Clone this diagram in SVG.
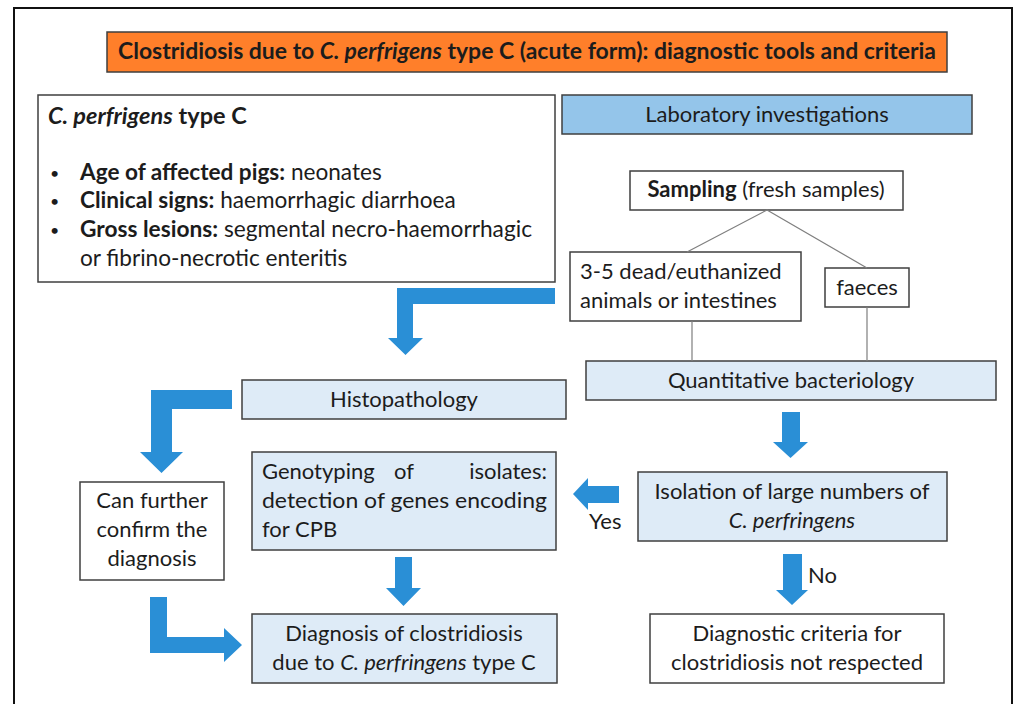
<svg xmlns="http://www.w3.org/2000/svg" width="1016" height="704" viewBox="0 0 1016 704">
  <style>
    text { font-family: Lato, "Open Sans", "Liberation Sans", sans-serif; fill: #1c1c1c; font-size: 22px; }
    .box { stroke: #3f3f3f; stroke-width: 1.5; }
    .white { fill: #ffffff; }
    .pale { fill: #deebf7; }
    .mid { fill: #94c5ea; }
    .title { fill: #ff7f2a; }
    .arrow { fill: #2a8fd6; }
    .link { stroke: #7f7f7f; stroke-width: 1.2; fill: none; }
    .c { text-anchor: middle; }
    .b { font-weight: bold; }
    .i { font-style: italic; }
    .dot { font-size: 16px; }
    #summary text { font-size: 22.6px; }
    #summary text.head { font-size: 23.5px; }
    #summary text.dot { font-size: 16px; }
  </style>

  <rect x="0" y="0" width="1016" height="704" fill="#ffffff"/>
  <!-- outer frame -->
  <rect x="14" y="8" width="998" height="720" fill="none" stroke="#111" stroke-width="2"/>

  <!-- title -->
  <g id="title">
    <rect class="box title" x="107" y="32" width="840" height="40"/>
    <text class="b" x="118" y="59" font-size="20" textLength="818" lengthAdjust="spacingAndGlyphs">Clostridiosis due to <tspan class="i">C. perfrigens</tspan> type C (acute form): diagnostic tools and criteria</text>
  </g>

  <!-- clinical summary -->
  <g id="summary">
    <rect class="box white" x="38" y="95" width="517" height="187"/>
    <text class="b head" x="48" y="124"><tspan class="i">C. perfrigens</tspan> type C</text>
    <text class="dot" x="50" y="179">•</text>
    <text class="dot" x="50" y="207">•</text>
    <text class="dot" x="50" y="236">•</text>
    <text x="80" y="180"><tspan class="b">Age of affected pigs:</tspan> neonates</text>
    <text x="80" y="208"><tspan class="b">Clinical signs:</tspan> haemorrhagic diarrhoea</text>
    <text x="80" y="237" textLength="452" lengthAdjust="spacingAndGlyphs"><tspan class="b">Gross lesions:</tspan> segmental necro-haemorrhagic</text>
    <text x="80" y="266">or fibrino-necrotic enteritis</text>
  </g>

  <g id="lab">
    <rect class="box mid" x="562" y="95" width="410" height="39"/>
    <text class="c" x="767" y="122">Laboratory investigations</text>
  </g>

  <g id="sampling">
    <rect class="box white" x="630" y="171" width="273" height="39"/>
    <text class="c" x="766" y="197"><tspan class="b">Sampling</tspan> (fresh samples)</text>
  </g>

  <g id="animals">
    <rect class="box white" x="570" y="252" width="231" height="69"/>
    <text x="580" y="279">3-5 dead/euthanized</text>
    <text x="580" y="308">animals or intestines</text>
  </g>

  <g id="faeces">
    <rect class="box white" x="825" y="268" width="84" height="39"/>
    <text class="c" x="867" y="295">faeces</text>
  </g>

  <g id="bacteriology">
    <rect class="box pale" x="586" y="361" width="410" height="39"/>
    <text class="c" x="791" y="388">Quantitative bacteriology</text>
  </g>

  <g id="histopathology">
    <rect class="box pale" x="242" y="380" width="324" height="39"/>
    <text class="c" x="404" y="407">Histopathology</text>
  </g>

  <g id="confirm">
    <rect class="box white" x="80" y="482" width="144" height="98"/>
    <text class="c" x="152" y="508">Can further</text>
    <text class="c" x="152" y="537">confirm the</text>
    <text class="c" x="152" y="566">diagnosis</text>
  </g>

  <g id="genotyping">
    <rect class="box pale" x="252" y="452" width="304" height="98"/>
    <text x="262" y="479">Genotyping</text>
    <text x="404" y="479" class="c">of</text>
    <text x="547" y="479" text-anchor="end">isolates:</text>
    <text x="262" y="508" textLength="285" lengthAdjust="spacingAndGlyphs">detection of genes encoding</text>
    <text x="262" y="537">for CPB</text>
  </g>

  <g id="diagnosis">
    <rect class="box pale" x="252" y="614" width="305" height="69"/>
    <text class="c" x="404" y="641">Diagnosis of clostridiosis</text>
    <text class="c" x="404" y="670">due to <tspan class="i">C. perfringens</tspan> type C</text>
  </g>

  <g id="isolation">
    <rect class="box pale" x="638" y="472" width="309" height="69"/>
    <text class="c" x="792" y="499">Isolation of large numbers of</text>
    <text class="c i" x="792" y="528">C. perfringens</text>
  </g>

  <g id="not-met">
    <rect class="box white" x="650" y="614" width="294" height="69"/>
    <text class="c" x="797" y="641">Diagnostic criteria for</text>
    <text class="c" x="797" y="670">clostridiosis not respected</text>
  </g>

  <!-- connectors -->
  <g id="connectors">
    <path class="link" d="M767 210 L687 252 M767 210 L867 268 M692 321 L692 361 M867 307 L867 361"/>
    <!-- summary to histopathology -->
    <path class="arrow" d="M555 288 L397 288 L397 338 L388 338 L405.5 355 L423 338 L413 338 L413 304 L555 304 Z"/>
    <!-- histopathology to confirmation -->
    <path class="arrow" d="M232 390 L151 390 L151 452 L140 452 L161.5 473 L183 452 L172 452 L172 409 L232 409 Z"/>
    <!-- confirmation to diagnosis -->
    <path class="arrow" d="M150 597 L167 597 L167 637 L224 637 L224 628 L242 645 L224 662 L224 653 L150 653 Z"/>
    <!-- genotyping to diagnosis -->
    <path class="arrow" d="M395 557 L412 557 L412 588 L421 588 L403.5 606 L386 588 L395 588 Z"/>
    <!-- bacteriology to isolation -->
    <path class="arrow" d="M782 412 L800 412 L800 442 L808 442 L790.5 458 L773 442 L782 442 Z"/>
    <!-- isolation: yes -->
    <path class="arrow" d="M619 486 L619 503 L588 503 L588 510 L573 494 L588 478 L588 486 Z"/>
    <text x="589" y="529">Yes</text>
    <!-- isolation: no -->
    <path class="arrow" d="M783 554 L802 554 L802 590 L808 590 L792 605 L776 590 L783 590 Z"/>
    <text x="808" y="583">No</text>
  </g>
</svg>
